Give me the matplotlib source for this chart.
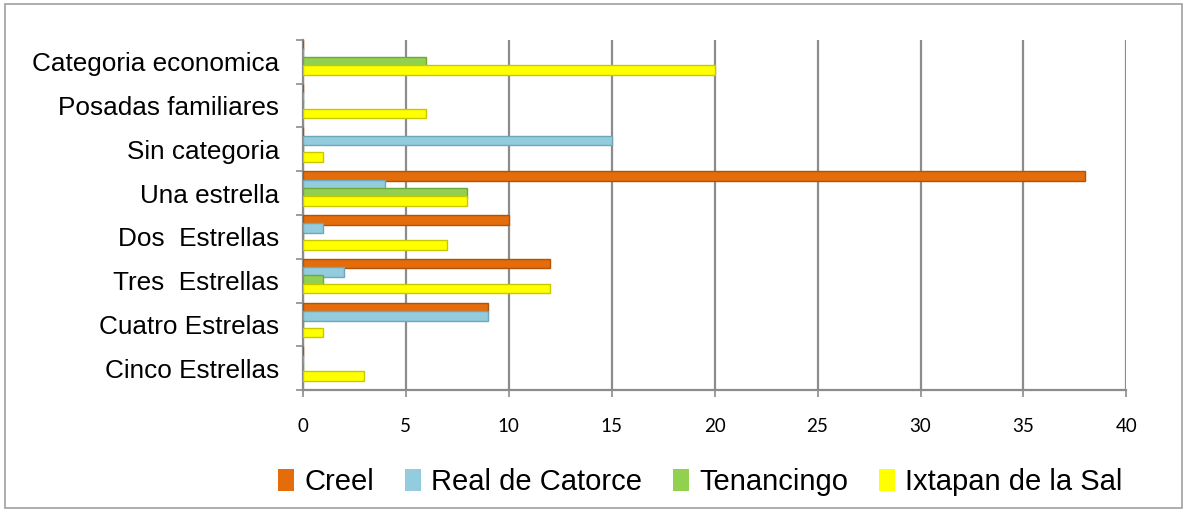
import numpy as np
import matplotlib
matplotlib.use("Agg")
import matplotlib.pyplot as plt
from matplotlib.patches import Rectangle

categories = ["Categoria economica", "Posadas familiares", "Sin categoria", "Una estrella",
              "Dos  Estrellas", "Tres  Estrellas", "Cuatro Estrelas", "Cinco Estrellas"]
series = ["Creel", "Real de Catorce", "Tenancingo", "Ixtapan de la Sal"]
creel = [0, 0, 0, 38, 10, 12, 9, 0]
real_catorce = [0, 0, 15, 4, 1, 2, 9, 0]
tenancingo = [6, 0, 0, 8, 0, 1, 0, 0]
ixtapan = [20, 6, 1, 8, 7, 12, 1, 3]
colors = ["#E46C0A", "#93CDDD", "#92D050", "#FFFF00"]
edges = ["#B0520A", "#6FA7B8", "#6FA83A", "#C8C800"]

fig = plt.figure(figsize=(11.87, 5.12), dpi=100)
ax = fig.add_axes([0.255, 0.238, 0.694, 0.684])

y = np.arange(len(categories))
h, step = 0.22, 0.19
for k, (vals, c, e, name) in enumerate(zip([creel, real_catorce, tenancingo, ixtapan], colors, edges, series)):
    ax.barh(y - 0.39 + k * step, vals, height=h, color=c, edgecolor=e, linewidth=1.0,
            label=name, zorder=3 + k)

ax.set_xlim(0, 40)
ax.set_ylim(len(categories) - 0.5, -0.5)
ax.set_xticks(range(0, 41, 5))
ax.xaxis.grid(True, color="#8C8C8C", linewidth=1.6, zorder=0)
ax.set_axisbelow(True)
ax.set_yticks(y)
ax.set_yticklabels(categories, fontsize=18.8, family="Liberation Sans")
ax.set_yticks(np.arange(-0.5, len(categories)), minor=True)
ax.tick_params(axis="y", which="major", length=0, pad=17)
ax.tick_params(axis="y", which="minor", length=5, color="#8C8C8C", width=1.2)
ax.tick_params(axis="x", length=5, color="#8C8C8C", width=1.2, pad=15, labelsize=13.5)
for lab in ax.get_xticklabels():
    lab.set_family("Lato")
for s in ["top", "right"]:
    ax.spines[s].set_visible(False)
for s in ["left", "bottom"]:
    ax.spines[s].set_color("#8C8C8C")
    ax.spines[s].set_linewidth(1.6)

leg = fig.legend(loc="center", bbox_to_anchor=(0.59, 0.058), ncol=4, frameon=False,
                 prop={"family": "Liberation Sans", "size": 21}, handlelength=0.55,
                 handleheight=0.75, handletextpad=0.35, columnspacing=1.05)
for p in leg.get_patches():
    p.set_edgecolor("none")

fig.patches.append(Rectangle((0.004, 0.008), 0.992, 0.984, transform=fig.transFigure,
                             fill=False, edgecolor="#A0A0A0", linewidth=1.2))
fig.savefig("out.png", dpi=100)
